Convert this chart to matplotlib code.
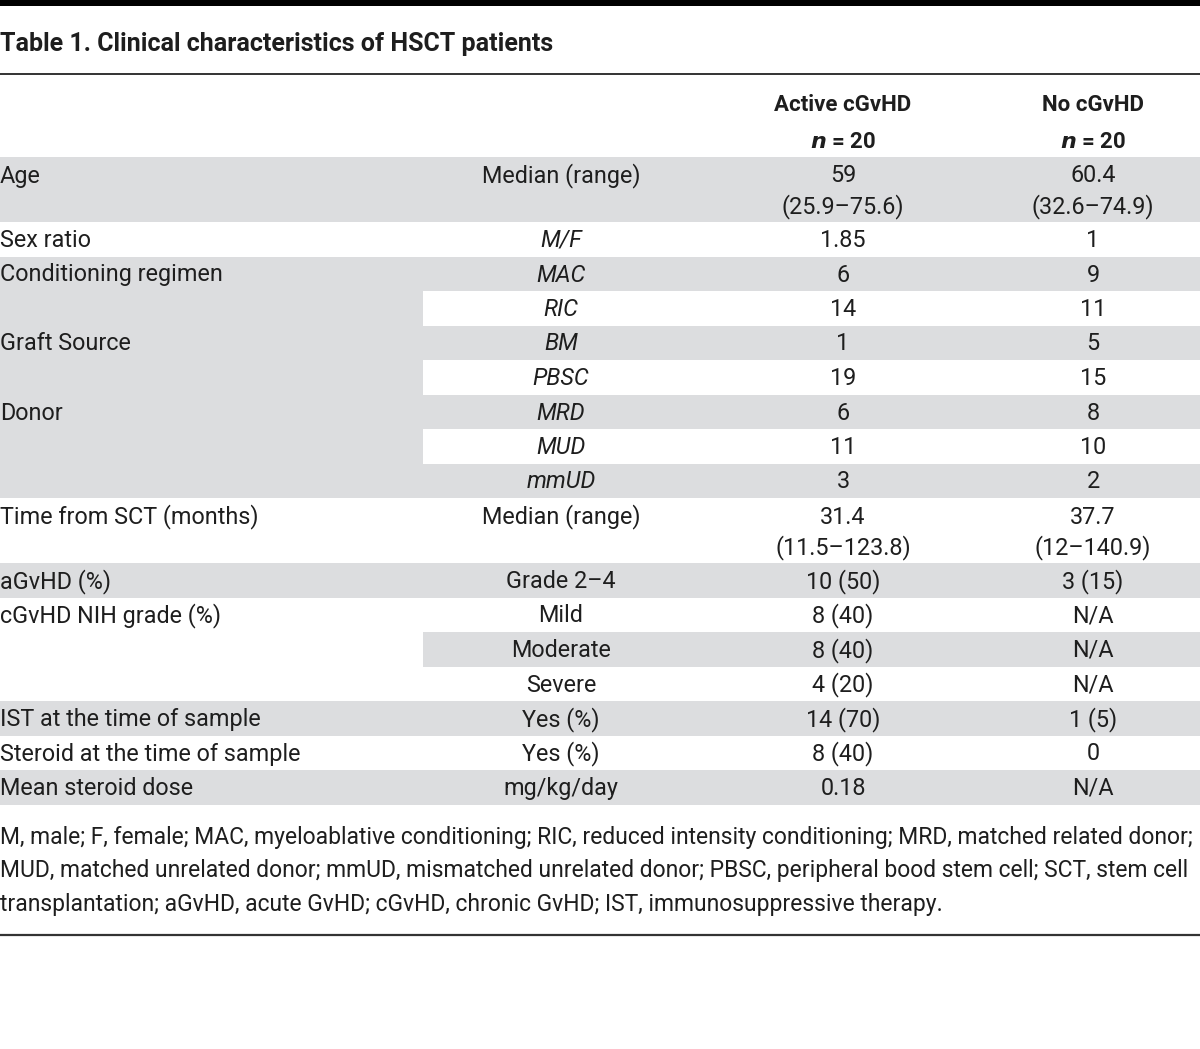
import matplotlib.pyplot as plt

# Table content
title = "Table 1. Clinical characteristics of HSCT patients"
groups = ["Active cGvHD", "No cGvHD"]
group_n = ["20", "20"]

characteristics = ["Age", "Sex ratio", "Conditioning regimen", "", "Graft Source", "", "Donor", "", "",
                   "Time from SCT (months)", "aGvHD (%)", "cGvHD NIH grade (%)", "", "",
                   "IST at the time of sample", "Steroid at the time of sample", "Mean steroid dose"]
measures = ["Median (range)", "M/F", "MAC", "RIC", "BM", "PBSC", "MRD", "MUD", "mmUD",
            "Median (range)", "Grade 2–4", "Mild", "Moderate", "Severe", "Yes (%)", "Yes (%)", "mg/kg/day"]
italic_measures = ["M/F", "MAC", "RIC", "BM", "PBSC", "MRD", "MUD", "mmUD"]
active_cgvhd = ["59\n(25.9–75.6)", "1.85", "6", "14", "1", "19", "6", "11", "3",
                "31.4\n(11.5–123.8)", "10 (50)", "8 (40)", "8 (40)", "4 (20)", "14 (70)", "8 (40)", "0.18"]
no_cgvhd = ["60.4\n(32.6–74.9)", "1", "9", "11", "5", "15", "8", "10", "2",
            "37.7\n(12–140.9)", "3 (15)", "N/A", "N/A", "N/A", "1 (5)", "0", "N/A"]

footnote = ["M, male; F, female; MAC, myeloablative conditioning; RIC, reduced intensity conditioning; MRD, matched related donor;",
            "MUD, matched unrelated donor; mmUD, mismatched unrelated donor; PBSC, peripheral bood stem cell; SCT, stem cell",
            "transplantation; aGvHD, acute GvHD; cGvHD, chronic GvHD; IST, immunosuppressive therapy."]

plt.rcParams['font.family'] = ['Roboto', 'DejaVu Sans']
ink = '#1e1e1e'
shade = '#dcdddf'
fs = 16.8

fig = plt.figure(figsize=(12, 10.49), dpi=100)
ax = fig.add_axes([0, 0, 1, 1])
ax.set_xlim(0, 1200)
ax.set_ylim(1049, 0)
ax.axis('off')

# rules and title
ax.axhspan(0, 6, color='black', lw=0)
ax.axhline(74, color='#333333', lw=1.4)
ax.text(0, 51, title, fontsize=18, fontweight='bold', color=ink, va='baseline')

# column header
col_x = [0, 561, 843, 1093]
split_x = 423
for x, g, n in zip(col_x[2:], groups, group_n):
    ax.text(x, 111, g, fontsize=16, fontweight='bold', color=ink, ha='center', va='baseline')
    ax.text(x, 148, "$\\mathbfit{n}$ = " + n, fontsize=16, fontweight='bold', color=ink,
            ha='center', va='baseline')

# body rows
top = 157
single_h, double_h = 34.5, 65
group_shaded = False
for i, (lab, meas, a, b) in enumerate(zip(characteristics, measures, active_cgvhd, no_cgvhd)):
    h = double_h if "\n" in a else single_h
    shaded = i % 2 == 0
    if lab:
        group_shaded = shaded
    if shaded:
        ax.axhspan(top, top + h, xmin=split_x / 1200, xmax=1, color=shade, lw=0)
    if group_shaded:
        ax.axhspan(top, top + h, xmin=0, xmax=split_x / 1200, color=shade, lw=0)

    base = top + (25.5 if h == double_h else 25)
    ax.text(col_x[0], base, lab, fontsize=fs, color=ink, va='baseline')
    ax.text(col_x[1], base, meas, fontsize=fs, color=ink, ha='center', va='baseline',
            style='italic' if meas in italic_measures else 'normal')
    for x, val in zip(col_x[2:], [a, b]):
        for k, line in enumerate(val.split("\n")):
            ax.text(x, base + 30.5 * k, line, fontsize=fs, color=ink, ha='center', va='baseline')
    top += h

# footnote
for k, line in enumerate(footnote):
    ax.text(0, 844 + 33.5 * k, line, fontsize=16.5, color=ink, va='baseline')
ax.axhline(935, color='#333333', lw=1.6)

plt.savefig("out.png", dpi=100)
